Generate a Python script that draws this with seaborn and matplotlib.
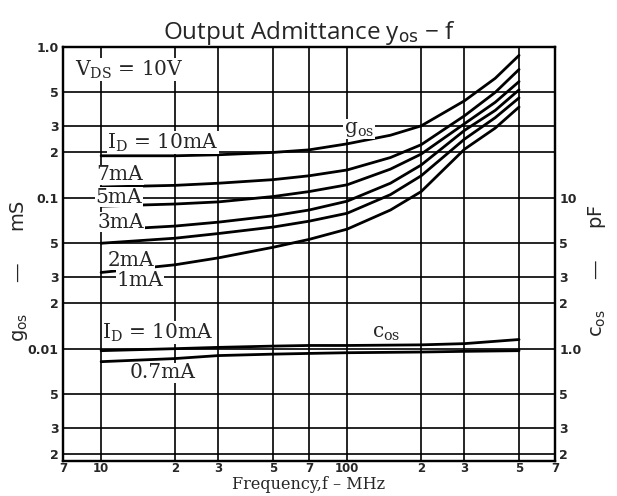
import matplotlib as mpl
import matplotlib.pyplot as plt
import matplotlib.ticker as mticker
import pandas as pd
import seaborn as sns

# ---------------------------------------------------------------------------
# Values (g_os in mS, c_os in pF)
# ---------------------------------------------------------------------------
FREQ_MHZ = [10, 20, 30, 50, 70, 100, 150, 200, 300, 400, 500]
GOS_10MA = [0.19, 0.19, 0.193, 0.2, 0.208, 0.228, 0.26, 0.30, 0.44, 0.62, 0.88]
GOS_7MA = [0.118, 0.121, 0.125, 0.132, 0.14, 0.153, 0.185, 0.225, 0.35, 0.50, 0.71]
GOS_5MA = [0.088, 0.091, 0.094, 0.102, 0.11, 0.122, 0.155, 0.195, 0.31, 0.43, 0.59]
GOS_3MA = [0.061, 0.065, 0.069, 0.076, 0.083, 0.095, 0.125, 0.165, 0.28, 0.38, 0.52]
GOS_2MA = [0.05, 0.054, 0.058, 0.064, 0.07, 0.079, 0.105, 0.14, 0.245, 0.34, 0.46]
GOS_1MA = [0.032, 0.036, 0.040, 0.047, 0.053, 0.062, 0.083, 0.11, 0.21, 0.29, 0.40]
GOS_CURRENTS = ["10mA", "7mA", "5mA", "3mA", "2mA", "1mA"]

COS_FREQ_MHZ = [10, 20, 30, 50, 70, 100, 200, 300, 500]
COS_10MA_PF = [0.97, 1.0, 1.02, 1.04, 1.05, 1.05, 1.06, 1.08, 1.15]
COS_07MA_PF = [0.82, 0.86, 0.9, 0.92, 0.93, 0.94, 0.95, 0.96, 0.97]
COS_CURRENTS = ["10mA", "0.7mA"]

X_TICKS = [7, 10, 20, 30, 50, 70, 100, 200, 300, 500, 700]
X_LABELS = ["7", "10", "2", "3", "5", "7", "100", "2", "3", "5", "7"]
LEFT_TICKS = [1.0, 0.5, 0.3, 0.2, 0.1, 0.05, 0.03, 0.02, 0.01, 0.005, 0.003, 0.002]
LEFT_LABELS = ["1.0", "5", "3", "2", "0.1", "5", "3", "2", "0.01", "5", "3", "2"]
RIGHT_TICKS = [10, 5, 3, 2, 1.0, 0.5, 0.3, 0.2]
RIGHT_LABELS = ["10", "5", "3", "2", "1.0", "5", "3", "2"]

Y_MIN, Y_MAX = 0.0018, 1.0

sns.set_theme(style="white")
mpl.rcParams.update(
    {
        "font.family": ["DejaVu Sans"],
        "mathtext.fontset": "dejavuserif",
        "axes.edgecolor": "black",
        "axes.linewidth": 1.6,
    }
)

gos_df = pd.concat(
    [
        pd.DataFrame({"f": FREQ_MHZ, "g": vals, "id": cur})
        for cur, vals in zip(
            GOS_CURRENTS, [GOS_10MA, GOS_7MA, GOS_5MA, GOS_3MA, GOS_2MA, GOS_1MA]
        )
    ]
)
# c_os shares the grid: 1.0 pF sits on the 0.01 mS line
cos_df = pd.concat(
    [
        pd.DataFrame({"f": COS_FREQ_MHZ, "g": [v / 100 for v in vals], "id": cur})
        for cur, vals in zip(COS_CURRENTS, [COS_10MA_PF, COS_07MA_PF])
    ]
)

fig = plt.figure(figsize=(6.17, 4.96), dpi=100)
ax = fig.add_axes([63 / 617, 1 - 461 / 496, (555 - 63) / 617, (461 - 47) / 496])

ax.set_xscale("log")
ax.set_yscale("log")
ax.set_xlim(7, 700)
ax.set_ylim(Y_MIN, Y_MAX)

# grid drawn by hand-picked ticks, like the printed chart
for xv in X_TICKS[1:-1]:
    ax.axvline(xv, color="black", lw=1.2, zorder=1)
for yv in LEFT_TICKS[1:]:
    ax.axhline(yv, color="black", lw=1.2, zorder=1)

sns.lineplot(
    data=gos_df, x="f", y="g", hue="id", palette=["black"] * len(GOS_CURRENTS),
    estimator=None, legend=False, lw=2.0, ax=ax, zorder=3,
)
sns.lineplot(
    data=cos_df, x="f", y="g", hue="id", palette=["black"] * len(COS_CURRENTS),
    estimator=None, legend=False, lw=2.0, ax=ax, zorder=3,
)

ax.xaxis.set_major_locator(mticker.FixedLocator(X_TICKS))
ax.xaxis.set_major_formatter(mticker.FixedFormatter(X_LABELS))
ax.xaxis.set_minor_locator(mticker.NullLocator())
ax.yaxis.set_major_locator(mticker.FixedLocator(LEFT_TICKS))
ax.yaxis.set_major_formatter(mticker.FixedFormatter(LEFT_LABELS))
ax.yaxis.set_minor_locator(mticker.NullLocator())
ax.tick_params(axis="y", length=0, labelsize=9, pad=3)
ax.tick_params(axis="x", length=0, labelsize=8.5, pad=1)
for lab in ax.get_xticklabels() + ax.get_yticklabels():
    lab.set_fontweight("bold")

ax.set_xlabel(r"Frequency,f – MHz", family="DejaVu Serif", fontsize=11.5)
ax.xaxis.set_label_coords(0.5, -0.037)
ax.set_ylabel(r"g$_{\mathsf{os}}$     —     mS", fontsize=14)
ax.yaxis.set_label_coords(-0.068, 0.46)
ax.set_title(r"Output Admittance y$_{\mathsf{os}}$ − f", family="Open Sans",
             fontsize=17.5, pad=3)

ax2 = ax.twinx()
ax2.set_yscale("log")
ax2.set_ylim(Y_MIN * 100, Y_MAX * 100)
ax2.yaxis.set_major_locator(mticker.FixedLocator(RIGHT_TICKS))
ax2.yaxis.set_major_formatter(mticker.FixedFormatter(RIGHT_LABELS))
ax2.yaxis.set_minor_locator(mticker.NullLocator())
ax2.tick_params(axis="y", length=0, labelsize=9, pad=3)
for lab in ax2.get_yticklabels():
    lab.set_fontweight("bold")
ax2.set_ylabel(r"c$_{\mathsf{os}}$     —     pF", fontsize=14)
ax2.yaxis.set_label_coords(1.063, 0.46)

box = dict(facecolor="white", edgecolor="none", pad=0.5)
serif = dict(family="DejaVu Serif", fontsize=14.5, va="center", ha="left", zorder=4, bbox=box)
ax.text(7.8, 0.71, r"V$_{\mathrm{DS}}$ = 10V", **serif)
ax.text(10.6, 0.232, r"I$_{\mathrm{D}}$ = 10mA", **serif)
ax.text(9.6, 0.142, "7mA", **serif)
ax.text(9.5, 0.101, "5mA", **serif)
ax.text(9.7, 0.069, "3mA", **serif)
ax.text(10.6, 0.0385, "2mA", **serif)
ax.text(11.6, 0.0285, "1mA", **serif)
ax.text(97, 0.285, r"g$_{\mathrm{os}}$", **serif)
ax.text(10.1, 0.0128, r"I$_{\mathrm{D}}$ = 10mA", **serif)
ax.text(13.1, 0.0069, "0.7mA", **serif)
ax.text(126, 0.0127, r"c$_{\mathrm{os}}$", **serif)

fig.savefig("out.png", dpi=100, facecolor="white")
